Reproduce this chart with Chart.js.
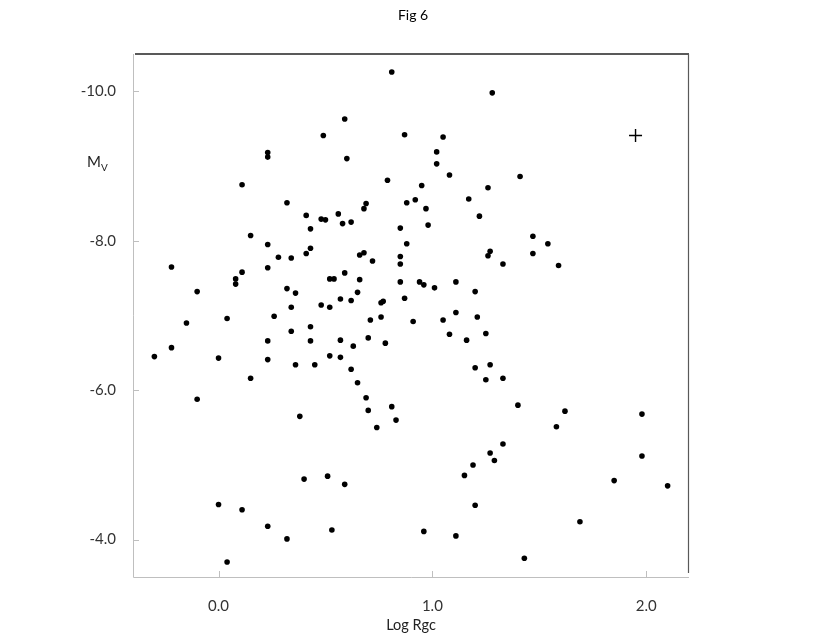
<!DOCTYPE html>
<html>
<head>
<meta charset="utf-8">
<script src="https://cdn.jsdelivr.net/npm/chart.js@4.4.1/dist/chart.umd.min.js"></script>
<style>
  html, body { margin: 0; padding: 0; background: #fff; }
  #wrap { width: 830px; height: 642px; position: relative; }
</style>
</head>
<body>
<div id="wrap"><canvas id="fig6" width="830" height="642"></canvas></div>
<script>
// Fig 6 : M_V against log Rgc

var logRgc = [0.49, 0.23, 0.23, 0.11, 0.32, 0.41, 0.48, 0.50, 0.81, 1.28,
  0.59, 0.87, 1.05, 0.60, 1.02, 1.02, 1.08, 1.41, 0.79, 0.95,
  1.26, 1.17, 0.88, 0.92, 0.69, 0.68, 0.97, 0.56, 1.22, 0.43,
  0.15, 0.23, 0.43, 0.41, 0.28, 0.34, -0.22, 0.11, 0.23, 0.08,
  0.08, -0.10, 0.32, 0.36, 0.34, 0.48, 0.52, -0.15, 0.04, 0.26,
  0.34, 0.43, 0.23, 0.43, -0.22, -0.30, 0.00, 0.23, 0.36, 0.45,
  0.52, 0.15, -0.10, 0.58, 0.62, 0.85, 0.98, 0.88, 0.66, 0.68,
  0.72, 0.85, 0.85, 1.27, 1.26, 1.33, 0.52, 0.54, 0.59, 0.66,
  0.85, 0.94, 0.96, 1.01, 1.11, 1.20, 0.65, 0.57, 0.62, 0.76,
  0.77, 0.87, 0.71, 0.76, 0.91, 1.05, 1.11, 1.21, 1.08, 1.16,
  1.25, 0.57, 0.63, 0.70, 0.78, 0.57, 0.62, 0.65, 0.69, 1.20,
  1.27, 1.25, 1.33, 1.47, 1.54, 1.47, 1.59, 0.38, 0.40, 0.51,
  0.00, 0.11, 0.23, 0.32, 0.04, 0.53, 0.70, 0.81, 0.83, 0.74,
  1.40, 0.59, 0.96, 1.11, 1.33, 1.27, 1.29, 1.19, 1.15, 1.20,
  1.62, 1.58, 1.98, 1.98, 1.85, 2.10, 1.69, 1.43];

var magV = [-9.41, -9.18, -9.12, -8.75, -8.51, -8.34, -8.29, -8.28, -10.26, -9.98,
  -9.63, -9.42, -9.39, -9.10, -9.19, -9.03, -8.88, -8.86, -8.81, -8.74,
  -8.71, -8.56, -8.51, -8.55, -8.50, -8.43, -8.43, -8.36, -8.33, -8.16,
  -8.07, -7.95, -7.90, -7.83, -7.78, -7.77, -7.65, -7.58, -7.64, -7.49,
  -7.42, -7.32, -7.36, -7.30, -7.11, -7.14, -7.11, -6.90, -6.96, -6.99,
  -6.79, -6.85, -6.66, -6.66, -6.57, -6.45, -6.43, -6.41, -6.34, -6.34,
  -6.46, -6.16, -5.88, -8.23, -8.25, -8.17, -8.21, -7.96, -7.81, -7.84,
  -7.73, -7.79, -7.69, -7.86, -7.80, -7.69, -7.49, -7.49, -7.57, -7.48,
  -7.45, -7.45, -7.41, -7.37, -7.45, -7.32, -7.31, -7.22, -7.20, -7.17,
  -7.19, -7.23, -6.94, -6.98, -6.92, -6.94, -7.04, -6.98, -6.75, -6.67,
  -6.76, -6.67, -6.59, -6.70, -6.63, -6.44, -6.28, -6.10, -5.90, -6.30,
  -6.34, -6.14, -6.16, -8.06, -7.96, -7.83, -7.67, -5.65, -4.81, -4.85,
  -4.47, -4.40, -4.18, -4.01, -3.70, -4.13, -5.73, -5.78, -5.60, -5.50,
  -5.80, -4.74, -4.11, -4.05, -5.28, -5.16, -5.06, -5.00, -4.86, -4.46,
  -5.72, -5.51, -5.68, -5.12, -4.79, -4.72, -4.24, -3.75];

// the single "+" point
var crossLogRgc = [1.95];
var crossMagV = [-9.41];

var xTicks = [0.0, 1.0, 2.0];
var yTicks = [-10.0, -8.0, -6.0, -4.0];

var FONT = 'Lato, "Open Sans", sans-serif';

function toPoints(xs, ys) {
  return xs.map(function (x, i) { return { x: x, y: ys[i] }; });
}

// frame, inner tick marks, title and the M_V label
var framePlugin = {
  id: 'frame',
  beforeDatasetsDraw: function (chart) {
    var ctx = chart.ctx, a = chart.chartArea;
    var xs = chart.scales.x, ys = chart.scales.y;
    ctx.save();
    // light left / bottom axes
    ctx.strokeStyle = '#bfbfbf';
    ctx.lineWidth = 1;
    ctx.beginPath();
    ctx.moveTo(a.left + 0.5, a.top);
    ctx.lineTo(a.left + 0.5, a.bottom + 0.5);
    ctx.lineTo(a.right, a.bottom + 0.5);
    ctx.stroke();
    // tick marks pointing inwards
    ctx.beginPath();
    xTicks.forEach(function (v) {
      var px = Math.round(xs.getPixelForValue(v)) + 0.5;
      ctx.moveTo(px, a.bottom);
      ctx.lineTo(px, a.bottom - 6);
    });
    yTicks.forEach(function (v) {
      var py = Math.round(ys.getPixelForValue(v)) + 0.5;
      ctx.moveTo(a.left, py);
      ctx.lineTo(a.left + 6, py);
    });
    ctx.stroke();
    // darker top / right border
    ctx.strokeStyle = '#595959';
    ctx.lineWidth = 2;
    ctx.beginPath();
    ctx.moveTo(a.left + 2, a.top);
    ctx.lineTo(a.right, a.top);
    ctx.stroke();
    ctx.lineWidth = 1.2;
    ctx.beginPath();
    ctx.moveTo(a.right - 0.5, a.top);
    ctx.lineTo(a.right - 0.5, a.bottom - 4);
    ctx.stroke();

    // title
    ctx.fillStyle = '#000';
    ctx.textAlign = 'center';
    ctx.textBaseline = 'middle';
    ctx.font = '14px ' + FONT;
    ctx.fillText('Fig 6', 413, 15);

    // y label: M with subscript V
    ctx.fillStyle = '#222';
    ctx.textAlign = 'left';
    ctx.font = '15px ' + FONT;
    ctx.fillText('M', 87, 162);
    ctx.font = '10px ' + FONT;
    ctx.fillText('V', 101, 168);
    ctx.restore();
  }
};

var ctx = document.getElementById('fig6');

new Chart(ctx, {
  type: 'scatter',
  data: {
    datasets: [
      {
        label: 'clusters',
        data: toPoints(logRgc, magV),
        pointRadius: 2.8,
        pointBorderWidth: 0,
        pointBackgroundColor: '#000',
        pointBorderColor: '#000'
      },
      {
        label: 'cross',
        data: toPoints(crossLogRgc, crossMagV),
        pointStyle: 'cross',
        pointRadius: 6.5,
        pointBorderWidth: 1.4,
        pointBorderColor: '#000',
        pointBackgroundColor: '#000'
      }
    ]
  },
  options: {
    responsive: false,
    animation: false,
    layout: { padding: { left: 0, top: 54, right: 141, bottom: 0 } },
    plugins: {
      legend: { display: false },
      tooltip: { enabled: false },
      title: { display: false }
    },
    scales: {
      x: {
        type: 'linear',
        min: -0.4,
        max: 2.2,
        grid: { display: false },
        border: { display: false },
        afterFit: function (s) { s.height = 65; },
        afterBuildTicks: function (s) {
          s.ticks = xTicks.map(function (v) { return { value: v }; });
        },
        ticks: {
          padding: 12,
          color: '#333',
          font: { family: FONT, size: 15 },
          callback: function (v) { return Number(v).toFixed(1); }
        },
        title: {
          display: true,
          text: 'Log Rgc',
          color: '#222',
          font: { family: FONT, size: 14.5 },
          padding: { top: 0, bottom: 8 }
        }
      },
      y: {
        type: 'linear',
        reverse: true,
        min: -10.5,
        max: -3.5,
        grid: { display: false },
        border: { display: false },
        afterFit: function (s) { s.width = 133; },
        afterBuildTicks: function (s) {
          s.ticks = yTicks.map(function (v) { return { value: v }; });
        },
        ticks: {
          padding: 9,
          color: '#333',
          font: { family: FONT, size: 15 },
          callback: function (v) { return Number(v).toFixed(1); }
        }
      }
    }
  },
  plugins: [framePlugin]
});
</script>
</body>
</html>
